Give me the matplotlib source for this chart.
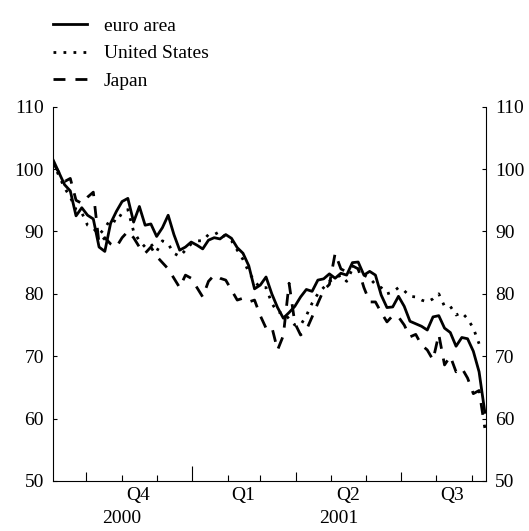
import matplotlib
matplotlib.use('Agg')
import matplotlib.pyplot as plt
import matplotlib.dates as mdates
import numpy as np
import pandas as pd

plt.rcParams['font.family'] = ['Liberation Serif', 'DejaVu Serif']

# datos: índices (base 100), lecturas cada 5 días desde el 2 sep 2000
fechas = pd.date_range('2000-09-02', periods=76, freq='5D')

euro = [101.5, 99.5, 97.5, 96.5, 92.5, 93.8, 92.6, 92.0, 87.5, 86.8,
        91.3, 93.2, 94.8, 95.3, 91.5, 94.0, 91.0, 91.2, 89.2, 90.6,
        92.6, 89.5, 87.0, 87.5, 88.3, 87.8, 87.2, 88.6, 89.0, 88.8,
        89.5, 88.9, 87.4, 86.5, 84.5, 80.8, 81.4, 82.7, 80.0, 77.8,
        76.1, 77.0, 78.0, 79.5, 80.7, 80.4, 82.2, 82.4, 83.2, 82.5,
        83.3, 83.0, 85.0, 85.1, 83.0, 83.6, 83.0, 79.8, 77.8, 77.9,
        79.6, 78.0, 75.6, 75.2, 74.8, 74.2, 76.3, 76.5, 74.5, 73.8,
        71.6, 73.0, 72.8, 70.8, 67.5, 61.0]

usa = [101.0, 99.0, 97.0, 95.5, 93.5, 93.0, 91.0, 90.5, 89.5, 90.5,
       92.0, 91.5, 93.0, 93.5, 90.0, 88.5, 87.5, 88.0, 86.8, 88.5,
       88.0, 86.5, 86.0, 87.0, 88.0, 88.5, 88.5, 89.5, 89.5, 90.0,
       89.0, 88.5, 87.0, 85.5, 83.5, 82.0, 81.0, 81.0, 78.5, 77.0,
       77.0, 76.0, 75.0, 75.0, 76.5, 78.5, 80.0, 81.0, 82.0, 82.5,
       83.0, 82.0, 84.0, 84.0, 83.0, 82.5, 81.5, 81.0, 80.0, 80.3,
       81.0, 80.5, 79.6, 79.5, 79.0, 78.7, 79.2, 80.0, 78.0, 78.0,
       76.6, 77.0, 76.0, 74.5, 72.0, np.nan]

japon = [101.0, 99.5, 98.0, 98.5, 95.0, 94.5, 95.5, 96.3, 88.0, 89.0,
         88.0, 87.5, 89.0, 90.0, 89.0, 87.5, 86.5, 87.5, 86.0, 85.0,
         84.0, 82.5, 81.0, 83.0, 82.5, 81.0, 79.5, 82.0, 83.0, 82.5,
         82.2, 80.6, 79.0, 79.3, 78.7, 79.0, 76.5, 74.5, 74.7, 71.0,
         73.3, 81.7, 75.3, 73.4, 74.2, 76.3, 78.5, 80.6, 81.5, 86.5,
         84.0, 83.5, 84.5, 84.0, 81.0, 78.7, 78.7, 77.0, 75.5, 76.5,
         76.3, 75.0, 73.1, 73.5, 71.8, 71.0, 69.4, 73.5, 68.6, 70.0,
         67.5, 68.1, 66.5, 64.0, 64.5, 58.5]

trimestres = ['Q4', 'Q1', 'Q2', 'Q3']
centros_trim = ['2000-11-15', '2001-02-14', '2001-05-16', '2001-08-15']
anios = ['2000', '2001']
centros_anio = ['2000-11-01', '2001-05-08']

FS = 14

fig = plt.figure(figsize=(5.29, 5.31), dpi=100)
ax = fig.add_axes([0.1002, 0.0942, 0.8185, 0.7049])

ax.plot(fechas, euro, color='black', linewidth=2.0, label='euro area')
ax.plot(fechas, usa, color='black', linewidth=2.0, dashes=(1.0, 2.6),
        label='United States')
ax.plot(fechas, japon, color='black', linewidth=2.0, dashes=(4.3, 3.6),
        label='Japan')

ax.set_xlim(pd.Timestamp('2000-09-02'), pd.Timestamp('2001-09-13'))
ax.set_ylim(50, 110)
ax.set_yticks(np.arange(50, 111, 10))
ax.tick_params(axis='y', direction='in', length=2.7, width=0.8,
               left=True, right=True, labelleft=True, labelright=True,
               labelsize=FS, pad=6.5)

# eje x: trimestres (largos), meses (cortos), año (más largo)
meses = pd.date_range('2000-10-01', '2001-09-01', freq='MS')
trim = [m for m in meses if m.month in (1, 4, 7, 10)]
otros = [m for m in meses if m.month not in (1, 4, 7, 10)]
ax.xaxis.set_major_locator(plt.FixedLocator(mdates.date2num(trim)))
ax.xaxis.set_minor_locator(plt.FixedLocator(mdates.date2num(otros)))
ax.xaxis.set_major_formatter(plt.NullFormatter())
ax.tick_params(axis='x', which='major', direction='in', length=6.5, width=0.8)
ax.tick_params(axis='x', which='minor', direction='in', length=4.3, width=0.8)
for t, m in zip(ax.xaxis.get_major_ticks(), trim):
    if m.month == 1:
        t.tick1line.set_markersize(10.8)

for lab, c in zip(trimestres, centros_trim):
    ax.text(pd.Timestamp(c), -0.016, lab, transform=ax.get_xaxis_transform(),
            ha='center', va='top', fontsize=FS)
for lab, c in zip(anios, centros_anio):
    ax.text(pd.Timestamp(c), -0.077, lab, transform=ax.get_xaxis_transform(),
            ha='center', va='top', fontsize=FS)

ax.spines['top'].set_visible(False)
for s in ('left', 'right', 'bottom'):
    ax.spines[s].set_linewidth(0.8)

fig.legend(loc='upper left', bbox_to_anchor=(0.1002, 0.968), frameon=False,
           fontsize=FS, handlelength=1.75, handletextpad=0.87,
           labelspacing=0.52, borderpad=0, borderaxespad=0)

fig.savefig('out.png', dpi=100)
